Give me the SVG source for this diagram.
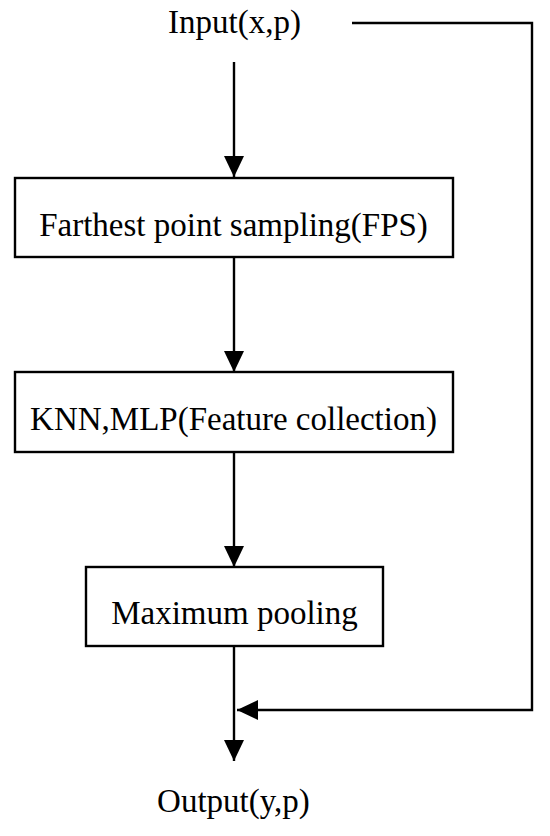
<svg xmlns="http://www.w3.org/2000/svg" width="550" height="836" viewBox="0 0 550 836">
<style>
.box{fill:#fff;stroke:#000;stroke-width:2.4}
.lbl{font-family:"Liberation Serif","Times New Roman",serif;font-size:33px;fill:#000;text-anchor:middle}
.con{fill:none;stroke:#000;stroke-width:2.4}
</style>
<defs>
<marker id="ah" markerUnits="userSpaceOnUse" markerWidth="22" markerHeight="22" viewBox="0 0 22 22" refX="21" refY="11" orient="auto">
<path d="M0,1 L21,11 L0,21 Z" fill="#000"/>
</marker>
</defs>
<rect width="550" height="836" fill="#fff"/>
<g id="connectors">
<line class="con" x1="234" y1="62" x2="234" y2="177" marker-end="url(#ah)"/>
<line class="con" x1="234" y1="257" x2="234" y2="372" marker-end="url(#ah)"/>
<line class="con" x1="234" y1="452" x2="234" y2="567" marker-end="url(#ah)"/>
<line class="con" x1="234" y1="646" x2="234" y2="761" marker-end="url(#ah)"/>
<polyline class="con" points="352,23 532,23 532,710 237,710" marker-end="url(#ah)"/>
</g>
<g id="input"><text class="lbl" x="234.5" y="33">Input(x,p)</text></g>
<g id="fps"><rect class="box" x="15" y="178" width="438" height="79"/><text class="lbl" x="233.5" y="236">Farthest point sampling(FPS)</text></g>
<g id="knn"><rect class="box" x="15" y="372" width="438" height="80"/><text class="lbl" x="233.5" y="430">KNN,MLP(Feature collection)</text></g>
<g id="pool"><rect class="box" x="86" y="567" width="297" height="79"/><text class="lbl" x="234.5" y="624">Maximum pooling</text></g>
<g id="output"><text class="lbl" x="233.5" y="812">Output(y,p)</text></g>
</svg>
